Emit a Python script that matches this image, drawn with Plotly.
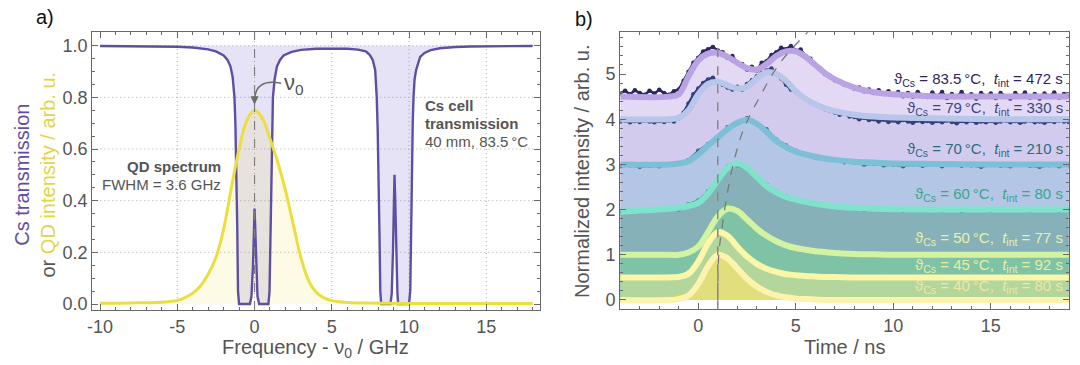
import numpy as np
import plotly.graph_objects as go

FONT = "Liberation Sans"
GREY = "#555555"
AXIS = "#6a6a6a"

# ---------------- Panel a) : Cs transmission and QD spectrum ----------------
freq_cs = [-10, -7, -5, -4, -3, -2.5, -2.0, -1.75, -1.56, -1.42, -1.3, -1.24, -1.18, -1.12, -1.07,
           -1.0, -0.3, -0.2, -0.1, -0.03, 0.0, 0.03, 0.1, 0.19, 0.3, 0.9, 0.97, 1.03, 1.08, 1.14,
           1.19, 1.3, 1.45, 1.65, 1.88, 2.4, 3.0, 4.0, 5.0, 6.0, 6.7, 7.2, 7.45, 7.65, 7.81, 7.91,
           7.97, 8.02, 8.08, 8.14, 8.2, 8.8, 8.88, 8.96, 9.03, 9.06, 9.1, 9.17, 9.25, 9.3, 10.0,
           10.08, 10.13, 10.18, 10.24, 10.29, 10.36, 10.46, 10.58, 10.72, 11.0, 11.4, 12, 13, 14, 16, 18]
trans_cs = [0.999, 0.998, 0.996, 0.993, 0.986, 0.978, 0.962, 0.945, 0.92, 0.88, 0.80, 0.70, 0.54, 0.3, 0.05,
            0.0, 0.0, 0.03, 0.15, 0.32, 0.37, 0.32, 0.15, 0.03, 0.0, 0.0, 0.05, 0.3, 0.54, 0.70,
            0.80, 0.87, 0.92, 0.945, 0.962, 0.976, 0.984, 0.988, 0.989, 0.988, 0.985, 0.978, 0.965, 0.945, 0.906, 0.80,
            0.68, 0.54, 0.3, 0.05, 0.0, 0.0, 0.04, 0.2, 0.42, 0.50, 0.42, 0.2, 0.04, 0.0, 0.0,
            0.05, 0.3, 0.54, 0.70, 0.80, 0.87, 0.906, 0.935, 0.957, 0.972, 0.983, 0.99, 0.995, 0.997, 0.999, 0.999]

freq_qd = [-10, -8, -6, -5, -4.5, -4, -3.5, -3, -2.5, -2, -1.5, -1, -0.5, 0, 0.5, 1, 1.5, 2, 2.5,
           3, 3.5, 4, 4.5, 5, 6, 8, 10, 14, 18]
int_qd = [0.003, 0.004, 0.007, 0.014, 0.025, 0.042, 0.07, 0.115, 0.18, 0.29, 0.45, 0.60, 0.71, 0.75,
          0.72, 0.64, 0.55, 0.44, 0.31, 0.18, 0.09, 0.045, 0.024, 0.013, 0.006, 0.003, 0.002, 0.002, 0.002]

xa_ticks = [-10, -5, 0, 5, 10, 15]
xa_ticktext = ["-10", "-5", "0", "5", "10", "15"]
ya_ticks = [0.0, 0.2, 0.4, 0.6, 0.8, 1.0]
ya_ticktext = ["0.0", "0.2", "0.4", "0.6", "0.8", "1.0"]
xa_grid = [-5, 0, 5, 10, 15]
ya_grid = [0.2, 0.4, 0.6, 0.8, 1.0]

# ---------------- Panel b) : time-resolved traces ----------------
time_fine = np.arange(-4, 19.001, 0.25)     # 93 samples
time_coarse = np.arange(-4, 19.001, 0.5)    # 47 samples
time_fit = [-4, -1.5, -1, -0.5, 0, 0.5, 1, 1.5, 2, 2.5, 3, 3.5, 4, 4.5, 5, 5.5, 6, 6.5, 7, 8, 9, 10, 12, 15, 19]

data_835 = [4.57, 4.63, 4.55, 4.64, 4.58, 4.54, 4.63, 4.57, 4.65, 4.58, 4.54, 4.62,
            4.66, 4.85, 5.05, 5.25, 5.36, 5.50, 5.55, 5.60, 5.52, 5.48, 5.36, 5.40,
            5.26, 5.22, 5.10, 5.16, 5.08, 5.25, 5.28, 5.42, 5.48, 5.58, 5.55, 5.62,
            5.52, 5.54, 5.40, 5.34, 5.20, 5.12, 5.00, 4.96, 4.86, 4.84, 4.76, 4.74,
            4.68, 4.70, 4.62, 4.66, 4.58, 4.64, 4.56, 4.62, 4.54, 4.60, 4.51, 4.58,
            4.50, 4.60, 4.53, 4.49, 4.59, 4.51, 4.60, 4.47, 4.56, 4.50, 4.60, 4.49,
            4.55, 4.46, 4.58, 4.51, 4.57, 4.47, 4.58, 4.51, 4.46, 4.58, 4.51, 4.59,
            4.48, 4.56, 4.46, 4.57, 4.51, 4.59, 4.48, 4.56, 4.52]
data_79 = [3.95, 3.97, 3.93, 3.96, 3.94, 3.97, 3.95, 3.93, 3.96, 3.94, 3.97, 3.95,
           4.02, 4.15, 4.35, 4.55, 4.68, 4.80, 4.88, 4.92, 4.82, 4.76, 4.70, 4.66,
           4.72, 4.66, 4.78, 4.86, 4.95, 5.02, 5.08, 5.12, 5.00, 4.90, 4.76, 4.66,
           4.60, 4.52, 4.45, 4.38, 4.33, 4.28, 4.22, 4.18, 4.15, 4.10, 4.12, 4.06,
           4.05, 4.00, 4.03, 3.98, 4.00, 3.95, 3.99, 3.94, 3.97, 3.93, 3.98, 3.95,
           3.92, 3.97, 3.94, 3.96, 3.92, 3.96, 3.93, 3.97, 3.94, 3.91, 3.96, 3.93,
           3.97, 3.92, 3.95, 3.93, 3.96, 3.92, 3.95, 3.97, 3.93, 3.96, 3.92, 3.95,
           3.97, 3.93, 3.95, 3.92, 3.96, 3.94, 3.97, 3.95, 3.94]
data_70 = [2.96, 2.98, 2.95, 2.97, 2.96, 2.99, 3.03, 3.10, 3.30, 3.45, 3.58, 3.82,
           3.92, 4.02, 3.90, 3.78, 3.55, 3.42, 3.30, 3.22, 3.16, 3.12, 3.10, 3.05,
           3.04, 3.00, 3.02, 2.98, 3.00, 2.96, 3.00, 2.97, 2.99, 2.96, 3.00, 2.97,
           2.98, 2.95, 2.99, 2.97, 2.96, 2.99, 2.97, 2.95, 2.98, 2.96, 2.98]
data_60 = [1.95, 1.97, 1.96, 1.99, 2.00, 2.02, 2.00, 2.12, 2.20, 2.40, 2.68, 2.95,
           2.98, 2.90, 2.70, 2.55, 2.40, 2.30, 2.22, 2.18, 2.12, 2.10, 2.06, 2.05,
           2.03, 2.00, 2.02, 1.99, 2.01, 1.98, 2.00, 1.99, 2.01, 1.98, 2.00, 1.97,
           2.01, 1.99, 1.98, 2.00, 1.99, 2.01, 1.98, 2.00, 1.99, 1.98, 2.00]
data_50 = [1.00, 1.01, 0.99, 1.00, 1.01, 1.00, 1.02, 1.08, 1.25, 1.55, 1.90, 2.08,
           2.00, 1.80, 1.60, 1.45, 1.32, 1.22, 1.16, 1.12, 1.09, 1.06, 1.05, 1.03,
           1.03, 1.01, 1.02, 1.00, 1.01, 0.99, 1.01, 1.00, 0.99, 1.01, 1.00, 0.99,
           1.01, 1.00, 0.99, 1.01, 1.00, 0.99, 1.01, 1.00, 0.99, 1.01, 1.00]
data_45 = [0.50, 0.51, 0.50, 0.49, 0.51, 0.50, 0.53, 0.62, 0.90, 1.28, 1.52, 1.40,
           1.15, 0.95, 0.80, 0.70, 0.63, 0.58, 0.55, 0.53, 0.52, 0.51, 0.51, 0.50,
           0.51, 0.49, 0.50, 0.51, 0.50, 0.49, 0.51, 0.50, 0.49, 0.51, 0.50, 0.49,
           0.51, 0.50, 0.49, 0.51, 0.50, 0.49, 0.51, 0.50, 0.49, 0.51, 0.50]
data_40 = [0.00, -0.02, 0.01, -0.01, 0.02, 0.03, 0.08, 0.12, 0.40, 0.80, 1.05, 0.95,
           0.72, 0.50, 0.32, 0.20, 0.12, 0.07, 0.05, 0.03, 0.02, 0.01, 0.02, 0.00,
           0.01, -0.01, 0.01, 0.00, -0.01, 0.01, 0.00, -0.02, 0.01, 0.00, -0.01, 0.01,
           0.00, -0.02, 0.01, 0.00, -0.01, 0.01, 0.00, -0.01, 0.01, -0.01, 0.00]

fit_835 = [4.5, 4.5, 4.55, 4.95, 5.3, 5.45, 5.47, 5.38, 5.25, 5.13, 5.1, 5.22, 5.4, 5.5, 5.5, 5.38,
           5.2, 5.02, 4.88, 4.7, 4.6, 4.55, 4.51, 4.5, 4.5]
fit_79 = [4.0, 4.0, 4.03, 4.2, 4.55, 4.78, 4.83, 4.75, 4.68, 4.72, 4.9, 5.04, 5.0, 4.85, 4.62, 4.45,
          4.33, 4.24, 4.18, 4.1, 4.06, 4.04, 4.02, 4.0, 4.0]
fit_70 = [3.0, 3.0, 3.02, 3.07, 3.22, 3.42, 3.6, 3.78, 3.92, 3.98, 3.9, 3.72, 3.52, 3.38, 3.28, 3.22,
          3.17, 3.13, 3.1, 3.06, 3.04, 3.02, 3.01, 3.0, 3.0]
fit_60 = [1.95, 2.02, 2.04, 2.08, 2.15, 2.35, 2.65, 2.92, 3.02, 2.92, 2.72, 2.52, 2.38, 2.28, 2.22, 2.17,
          2.13, 2.1, 2.07, 2.04, 2.02, 2.01, 2.0, 2.0, 2.0]
fit_50 = [1.0, 1.0, 1.0, 1.05, 1.18, 1.5, 1.85, 2.02, 1.97, 1.78, 1.58, 1.42, 1.3, 1.21, 1.15, 1.11,
          1.08, 1.06, 1.04, 1.02, 1.01, 1.0, 1.0, 1.0, 1.0]
fit_45 = [0.5, 0.5, 0.51, 0.58, 0.85, 1.25, 1.5, 1.42, 1.18, 0.96, 0.8, 0.69, 0.62, 0.57, 0.55, 0.53,
          0.52, 0.51, 0.51, 0.5, 0.5, 0.5, 0.5, 0.5, 0.5]
fit_40 = [0.0, 0.0, 0.02, 0.1, 0.35, 0.75, 1.0, 0.92, 0.7, 0.47, 0.3, 0.18, 0.1, 0.06, 0.03, 0.02,
          0.01, 0.0, 0.0, 0.0, 0.0, 0.0, 0.0, 0.0, 0.0]

labels_b = ["83.5", "79", "70", "60", "50", "45", "40"]
tint_b = ["472", "330", "210", "80", "77", "92", "80"]
label_y_b = [4.87, 4.24, 3.34, 2.34, 1.35, 0.77, 0.29]

peak_shift_t = [1.0, 1.05, 1.2, 1.46, 1.8, 2.31, 3.16, 4.18, 5.71]
peak_shift_y = [0.0, 1.0, 1.55, 2.29, 3.02, 3.76, 4.5, 5.24, 5.97]

xb_ticks = [0, 5, 10, 15]
yb_ticks = [0, 1, 2, 3, 4, 5]

# ---------------- styles ----------------
PURPLE = "#5e4fa2"
YELLOW = "#ebde3e"
series_b = [
    # data, fit, data colour, fit colour, fill colour, label colour, data sampling
    (data_835, fit_835, "#2b2660", "#b9a3e3", "#e3d9f5", "#2b2660", time_fine),
    (data_79, fit_79, "#34407c", "#b8c6ea", "#d3cbee", "#3a4785", time_fine),
    (data_70, fit_70, "#2b6b80", "#7cbfd6", "#b4c6e6", "#2b6b80", time_coarse),
    (data_60, fit_60, "#2a9a86", "#7fe3cc", "#87b1b9", "#3aa58e", time_coarse),
    (data_50, fit_50, "#74cf6c", "#d4f3a2", "#7fc3a7", "#e6f2a8", time_coarse),
    (data_45, fit_45, "#bde265", "#fbf6a8", "#b2d69c", "#ecec9e", time_coarse),
    (data_40, fit_40, "#e8d94a", "#fdf3ae", "#e1de7c", "#eee8a0", time_coarse),
]

fig = go.Figure()

# panel a traces
fig.add_trace(go.Scatter(x=[freq_cs[0], freq_cs[-1]], y=[1, 1], mode="lines", line=dict(width=0),
                         xaxis="x", yaxis="y", hoverinfo="skip"))
fig.add_trace(go.Scatter(x=freq_cs, y=trans_cs, mode="lines", line=dict(width=0), fill="tonexty",
                         fillcolor="rgba(120,100,210,0.18)", xaxis="x", yaxis="y"))
fig.add_trace(go.Scatter(x=freq_qd, y=int_qd, mode="lines", line=dict(width=0, shape="spline"),
                         fill="tozeroy", fillcolor="rgba(236,223,63,0.13)", xaxis="x", yaxis="y"))
fig.add_trace(go.Scatter(x=freq_cs, y=trans_cs, mode="lines", line=dict(color=PURPLE, width=2.4),
                         xaxis="x", yaxis="y"))
fig.add_trace(go.Scatter(x=freq_qd, y=int_qd, mode="lines", line=dict(color=YELLOW, width=3, shape="spline"),
                         xaxis="x", yaxis="y"))

# panel b fills (top to bottom, each covering the one above)
for data, fit, dcol, fcol, fillcol, lcol, tt in series_b:
    fig.add_trace(go.Scatter(x=time_fit, y=fit, mode="lines", line=dict(width=0, shape="spline"),
                             fill="tozeroy", fillcolor=fillcol, xaxis="x2", yaxis="y2"))
# data then fits
for data, fit, dcol, fcol, fillcol, lcol, tt in series_b:
    fig.add_trace(go.Scatter(x=tt, y=data, mode="lines+markers", line=dict(color=dcol, width=2.5),
                             marker=dict(color=dcol, size=4.5), xaxis="x2", yaxis="y2"))
for data, fit, dcol, fcol, fillcol, lcol, tt in series_b:
    fig.add_trace(go.Scatter(x=time_fit, y=fit, mode="lines", line=dict(color=fcol, width=6, shape="spline"),
                             xaxis="x2", yaxis="y2"))
fig.add_trace(go.Scatter(x=peak_shift_t, y=peak_shift_y, mode="lines",
                         line=dict(color="#7a7a7a", width=1.3, dash="dash", shape="spline"),
                         xaxis="x2", yaxis="y2"))

common = dict(showline=True, linecolor=AXIS, linewidth=1.2, mirror="allticks", ticks="inside",
              ticklen=6, tickcolor=AXIS, tickwidth=1, showgrid=False, zeroline=False,
              tickfont=dict(family=FONT, size=18, color=GREY), automargin=False)

fig.update_layout(
    width=1080, height=365, margin=dict(l=0, r=0, t=0, b=0), autosize=False,
    plot_bgcolor="white", paper_bgcolor="white", showlegend=False,
    font=dict(family=FONT, color=GREY),
    xaxis=dict(domain=[0.0855, 0.5003], range=[-10.5, 18.5], anchor="y",
               tickmode="array", tickvals=xa_ticks, ticktext=xa_ticktext,
               minor=dict(tickmode="array", tickvals=list(range(-10, 19)), ticks="inside", ticklen=3,
                          tickcolor=AXIS), **common),
    yaxis=dict(domain=[0.1507, 0.9115], range=[-0.0232, 1.0519], anchor="x",
               tickmode="array", tickvals=ya_ticks, ticktext=ya_ticktext,
               minor=dict(tickmode="array", tickvals=[i * 0.05 for i in range(0, 21)], ticks="inside",
                          ticklen=3, tickcolor=AXIS), **common),
    xaxis2=dict(domain=[0.5743, 0.9897], range=[-4, 19], anchor="y2",
                tickmode="array", tickvals=xb_ticks,
                minor=dict(tickmode="array", tickvals=list(range(-4, 20)), ticks="inside", ticklen=3,
                           tickcolor=AXIS), **common),
    yaxis2=dict(domain=[0.1526, 0.9115], range=[-0.206, 5.923], anchor="x2",
                tickmode="array", tickvals=yb_ticks,
                minor=dict(tickmode="array", tickvals=[i * 0.2 for i in range(-1, 30)], ticks="inside",
                           ticklen=3, tickcolor=AXIS), **common),
)

GRID = dict(color="#a8a8a8", width=1, dash="1px,3px")
shapes = []
for gx in xa_grid:
    shapes.append(dict(type="line", xref="x", yref="y domain", x0=gx, x1=gx, y0=0, y1=1,
                       line=GRID, layer="below"))
for gy in ya_grid:
    shapes.append(dict(type="line", xref="x domain", yref="y", x0=0, x1=1, y0=gy, y1=gy,
                       line=GRID, layer="below"))
shapes.append(dict(type="line", xref="x", yref="y domain", x0=0, x1=0, y0=0, y1=1,
                   line=dict(color="#808080", width=1.2, dash="dash"), layer="above"))
shapes.append(dict(type="path", xref="x", yref="y", path="M 1.72,0.855 Q 0.05,0.875 0.0,0.79",
                   line=dict(color="#6a6a6a", width=1.5), layer="above"))
shapes.append(dict(type="line", xref="x2", yref="y2 domain", x0=1.0, x1=1.0, y0=0, y1=1,
                   line=dict(color="#888888", width=1.5, dash="dash"), layer="above"))
fig.update_layout(shapes=shapes)

ann = []
ann.append(dict(xref="x", yref="y", x=0.0, y=0.772, ax=0.0, ay=0.80, axref="x", ayref="y",
                showarrow=True, arrowhead=2, arrowsize=1.1, arrowwidth=1.5, arrowcolor="#6a6a6a", text=""))
ann.append(dict(xref="x", yref="y", x=1.79, y=0.85, xanchor="left", yanchor="middle", showarrow=False,
                text="ν<sub>0</sub>", font=dict(size=22, color=GREY)))
ann.append(dict(xref="x", yref="y", x=-2.03, y=0.532, xanchor="right", yanchor="middle", showarrow=False,
                text="<b>QD spectrum</b>", font=dict(size=15, color=GREY)))
ann.append(dict(xref="x", yref="y", x=-2.03, y=0.461, xanchor="right", yanchor="middle", showarrow=False,
                text="FWHM = 3.6 GHz", font=dict(size=15, color=GREY)))
ann.append(dict(xref="x", yref="y", x=10.9, y=0.767, xanchor="left", yanchor="middle", showarrow=False,
                text="<b>Cs cell</b>", font=dict(size=15, color=GREY)))
ann.append(dict(xref="x", yref="y", x=10.9, y=0.697, xanchor="left", yanchor="middle", showarrow=False,
                text="<b>transmission</b>", font=dict(size=15, color=GREY)))
ann.append(dict(xref="x", yref="y", x=10.9, y=0.628, xanchor="left", yanchor="middle", showarrow=False,
                text="40 mm, 83.5\u2009°C", font=dict(size=15, color=GREY)))


def paper_text(px, py, text, size, color=GREY, angle=0):
    return dict(xref="paper", yref="paper", x=px / 1080, y=1 - py / 365, xanchor="center",
                yanchor="middle", showarrow=False, textangle=angle, text=text,
                font=dict(size=size, color=color))


ann.append(paper_text(44.5, 17, "a)", 20, "#111111"))
ann.append(paper_text(584, 19, "b)", 20, "#111111"))
ann.append(paper_text(315.8, 348, "Frequency - ν<sub>0</sub> / GHz", 20))
ann.append(paper_text(34.5, 175, "<span style='color:#5e4fa2'>Cs transmission</span><br>or "
                                 "<span style='color:#e3d548'>QD intensity / arb. u.</span>", 20, angle=-90))
ann.append(paper_text(844.9, 346.7, "Time / ns", 20))
ann.append(paper_text(581.3, 171.7, "Normalized intensity / arb. u.", 20, angle=-90))
for (data, fit, dcol, fcol, fillcol, lcol, tt), lab, ti, ly in zip(series_b, labels_b, tint_b, label_y_b):
    ann.append(dict(xref="x2", yref="y2", x=18.78, y=ly, xanchor="right", yanchor="middle", showarrow=False,
                    text=f"ϑ<sub>Cs</sub> = {lab}\u2009°C,\u00a0 <i>t</i><sub>int</sub> = {ti} s",
                    font=dict(size=15, color=lcol)))
fig.update_layout(annotations=ann)

fig.write_html("out.html", config={"displayModeBar": False},
               post_script="document.body.style.margin='0';document.body.style.overflow='hidden';")
